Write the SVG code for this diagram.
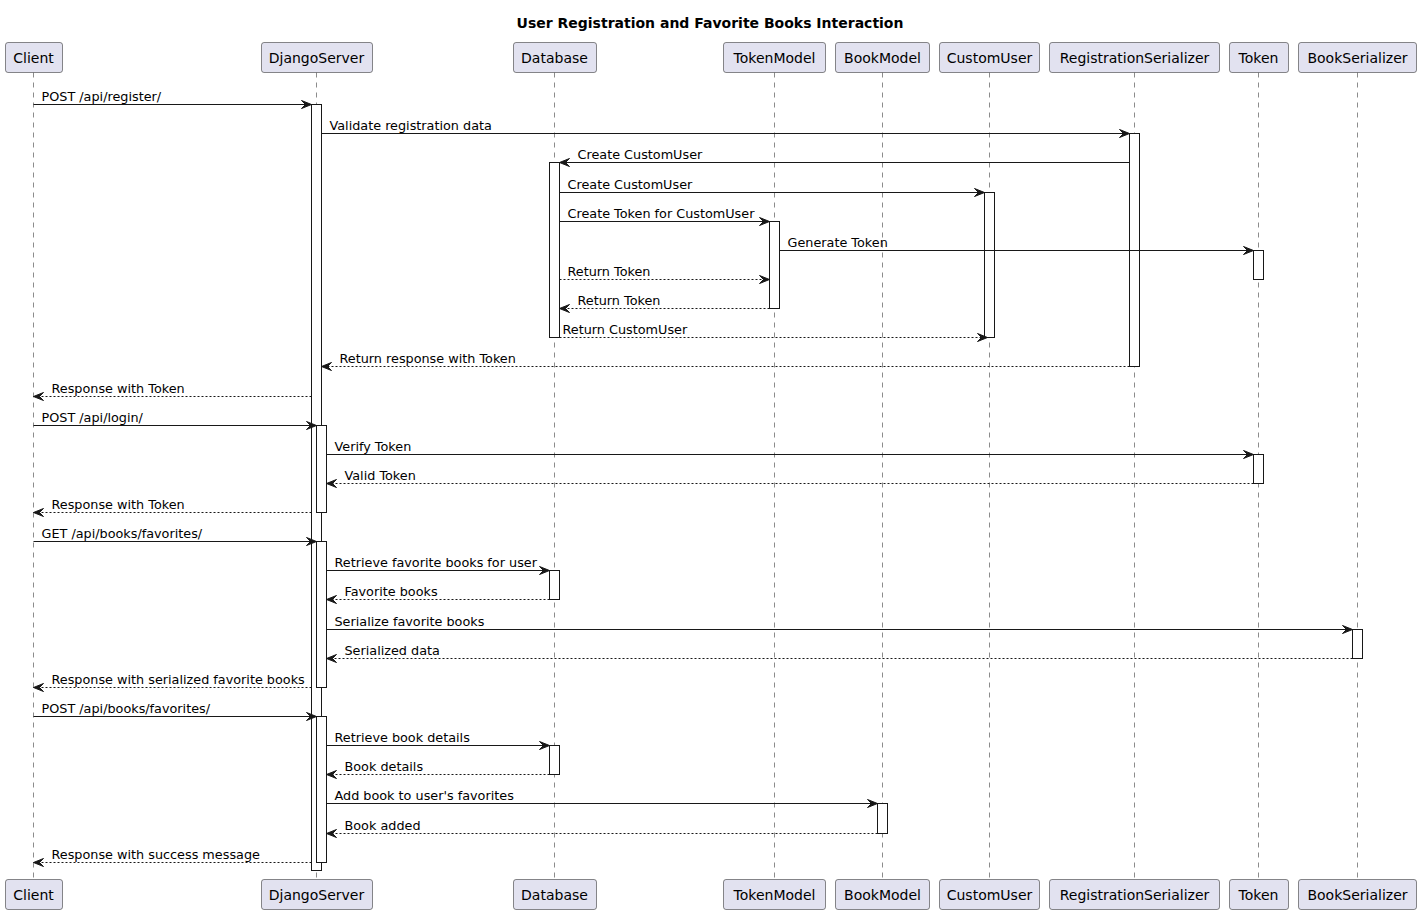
<svg xmlns="http://www.w3.org/2000/svg" width="1421" height="914" viewBox="0 0 1421 914">
  <style>
    text { font-family: "DejaVu Sans", "Noto Sans", sans-serif; fill: #000000; }
    .title { font-size: 14px; font-weight: bold; }
    .pname { font-size: 14px; text-anchor: middle; }
    .msg { font-size: 12.8px; }
    .pbox { fill: #E2E2F0; stroke: #181818; stroke-width: 0.5; }
    .life { stroke: #181818; stroke-width: 0.5; stroke-dasharray: 5,5; }
    .act { fill: #FFFFFF; stroke: #181818; stroke-width: 1; }
    .call { stroke: #181818; stroke-width: 1; fill: none; marker-end: url(#head); }
    .ret { stroke: #181818; stroke-width: 1; fill: none; stroke-dasharray: 2,2; marker-end: url(#head); }
  </style>
  <defs>
    <marker id="head" markerUnits="userSpaceOnUse" markerWidth="12" markerHeight="10" refX="10" refY="4" orient="auto" overflow="visible">
      <path d="M0,0 L10,4 L0,8 L4,4 Z" fill="#181818" stroke="#181818" stroke-width="1" stroke-linejoin="miter"/>
    </marker>
  </defs>
  <rect width="1421" height="914" fill="#FFFFFF"/>

  <text class="title" x="710" y="28" text-anchor="middle">User Registration and Favorite Books Interaction</text>

  <!-- half-pixel offset keeps the 1px strokes sharp -->
  <g transform="translate(0.5 0.5)">
  <!-- lifelines -->
  <g id="lifelines">
    <line class="life" x1="33" y1="72" x2="33" y2="879"/>
    <line class="life" x1="316" y1="72" x2="316" y2="879"/>
    <line class="life" x1="554" y1="72" x2="554" y2="879"/>
    <line class="life" x1="774" y1="72" x2="774" y2="879"/>
    <line class="life" x1="882" y1="72" x2="882" y2="879"/>
    <line class="life" x1="989" y1="72" x2="989" y2="879"/>
    <line class="life" x1="1134" y1="72" x2="1134" y2="879"/>
    <line class="life" x1="1258" y1="72" x2="1258" y2="879"/>
    <line class="life" x1="1357" y1="72" x2="1357" y2="879"/>
  </g>

  <!-- participants (head and foot boxes) with their activation bars -->
  <g id="Client">
    <rect class="pbox" x="5" y="42" width="57" height="30" rx="2.5"/>
    <text class="pname" x="33" y="62">Client</text>
    <rect class="pbox" x="5" y="879" width="57" height="30" rx="2.5"/>
    <text class="pname" x="33" y="899">Client</text>
  </g>
  <g id="DjangoServer">
    <rect class="pbox" x="261" y="42" width="111" height="30" rx="2.5"/>
    <text class="pname" x="316" y="62">DjangoServer</text>
    <rect class="pbox" x="261" y="879" width="111" height="30" rx="2.5"/>
    <text class="pname" x="316" y="899">DjangoServer</text>
    <rect class="act" x="311" y="104" width="10" height="766"/>
    <rect class="act" x="316" y="425" width="10" height="87"/>
    <rect class="act" x="316" y="541" width="10" height="146"/>
    <rect class="act" x="316" y="716" width="10" height="146"/>
  </g>
  <g id="Database">
    <rect class="pbox" x="513" y="42" width="83" height="30" rx="2.5"/>
    <text class="pname" x="554" y="62">Database</text>
    <rect class="pbox" x="513" y="879" width="83" height="30" rx="2.5"/>
    <text class="pname" x="554" y="899">Database</text>
    <rect class="act" x="549" y="162" width="10" height="175"/>
    <rect class="act" x="549" y="570" width="10" height="29"/>
    <rect class="act" x="549" y="745" width="10" height="29"/>
  </g>
  <g id="TokenModel">
    <rect class="pbox" x="723" y="42" width="102" height="30" rx="2.5"/>
    <text class="pname" x="774" y="62">TokenModel</text>
    <rect class="pbox" x="723" y="879" width="102" height="30" rx="2.5"/>
    <text class="pname" x="774" y="899">TokenModel</text>
    <rect class="act" x="769" y="221" width="10" height="87"/>
  </g>
  <g id="BookModel">
    <rect class="pbox" x="835" y="42" width="94" height="30" rx="2.5"/>
    <text class="pname" x="882" y="62">BookModel</text>
    <rect class="pbox" x="835" y="879" width="94" height="30" rx="2.5"/>
    <text class="pname" x="882" y="899">BookModel</text>
    <rect class="act" x="877" y="803" width="10" height="30"/>
  </g>
  <g id="CustomUser">
    <rect class="pbox" x="939" y="42" width="100" height="30" rx="2.5"/>
    <text class="pname" x="989" y="62">CustomUser</text>
    <rect class="pbox" x="939" y="879" width="100" height="30" rx="2.5"/>
    <text class="pname" x="989" y="899">CustomUser</text>
    <rect class="act" x="984" y="192" width="10" height="145"/>
  </g>
  <g id="RegistrationSerializer">
    <rect class="pbox" x="1049" y="42" width="170" height="30" rx="2.5"/>
    <text class="pname" x="1134" y="62">RegistrationSerializer</text>
    <rect class="pbox" x="1049" y="879" width="170" height="30" rx="2.5"/>
    <text class="pname" x="1134" y="899">RegistrationSerializer</text>
    <rect class="act" x="1129" y="133" width="10" height="233"/>
  </g>
  <g id="Token">
    <rect class="pbox" x="1229" y="42" width="59" height="30" rx="2.5"/>
    <text class="pname" x="1258" y="62">Token</text>
    <rect class="pbox" x="1229" y="879" width="59" height="30" rx="2.5"/>
    <text class="pname" x="1258" y="899">Token</text>
    <rect class="act" x="1253" y="250" width="10" height="29"/>
    <rect class="act" x="1253" y="454" width="10" height="29"/>
  </g>
  <g id="BookSerializer">
    <rect class="pbox" x="1298" y="42" width="118" height="30" rx="2.5"/>
    <text class="pname" x="1357" y="62">BookSerializer</text>
    <rect class="pbox" x="1298" y="879" width="118" height="30" rx="2.5"/>
    <text class="pname" x="1357" y="899">BookSerializer</text>
    <rect class="act" x="1352" y="629" width="10" height="29"/>
  </g>

  <!-- messages -->
  <g id="connectors">
    <line class="call" x1="33" y1="104" x2="311" y2="104"/>
    <text class="msg" x="41" y="100">POST /api/register/</text>

    <line class="call" x1="321" y1="133" x2="1129" y2="133"/>
    <text class="msg" x="329" y="129">Validate registration data</text>

    <line class="call" x1="1129" y1="162" x2="559" y2="162"/>
    <text class="msg" x="577" y="158">Create CustomUser</text>

    <line class="call" x1="559" y1="192" x2="984" y2="192"/>
    <text class="msg" x="567" y="188">Create CustomUser</text>

    <line class="call" x1="559" y1="221" x2="769" y2="221"/>
    <text class="msg" x="567" y="217">Create Token for CustomUser</text>

    <line class="call" x1="779" y1="250" x2="1253" y2="250"/>
    <text class="msg" x="787" y="246">Generate Token</text>

    <line class="ret" x1="559" y1="279" x2="769" y2="279"/>
    <text class="msg" x="567" y="275">Return Token</text>

    <line class="ret" x1="769" y1="308" x2="559" y2="308"/>
    <text class="msg" x="577" y="304">Return Token</text>

    <line class="ret" x1="559" y1="337" x2="987" y2="337"/>
    <text class="msg" x="562" y="333">Return CustomUser</text>

    <line class="ret" x1="1129" y1="366" x2="321" y2="366"/>
    <text class="msg" x="339" y="362">Return response with Token</text>

    <line class="ret" x1="311" y1="396" x2="33" y2="396"/>
    <text class="msg" x="51" y="392">Response with Token</text>

    <line class="call" x1="33" y1="425" x2="316" y2="425"/>
    <text class="msg" x="41" y="421">POST /api/login/</text>

    <line class="call" x1="326" y1="454" x2="1253" y2="454"/>
    <text class="msg" x="334" y="450">Verify Token</text>

    <line class="ret" x1="1253" y1="483" x2="326" y2="483"/>
    <text class="msg" x="344" y="479">Valid Token</text>

    <line class="ret" x1="311" y1="512" x2="33" y2="512"/>
    <text class="msg" x="51" y="508">Response with Token</text>

    <line class="call" x1="33" y1="541" x2="316" y2="541"/>
    <text class="msg" x="41" y="537">GET /api/books/favorites/</text>

    <line class="call" x1="326" y1="570" x2="549" y2="570"/>
    <text class="msg" x="334" y="566">Retrieve favorite books for user</text>

    <line class="ret" x1="549" y1="599" x2="326" y2="599"/>
    <text class="msg" x="344" y="595">Favorite books</text>

    <line class="call" x1="326" y1="629" x2="1352" y2="629"/>
    <text class="msg" x="334" y="625">Serialize favorite books</text>

    <line class="ret" x1="1352" y1="658" x2="326" y2="658"/>
    <text class="msg" x="344" y="654">Serialized data</text>

    <line class="ret" x1="311" y1="687" x2="33" y2="687"/>
    <text class="msg" x="51" y="683">Response with serialized favorite books</text>

    <line class="call" x1="33" y1="716" x2="316" y2="716"/>
    <text class="msg" x="41" y="712">POST /api/books/favorites/</text>

    <line class="call" x1="326" y1="745" x2="549" y2="745"/>
    <text class="msg" x="334" y="741">Retrieve book details</text>

    <line class="ret" x1="549" y1="774" x2="326" y2="774"/>
    <text class="msg" x="344" y="770">Book details</text>

    <line class="call" x1="326" y1="803" x2="877" y2="803"/>
    <text class="msg" x="334" y="799">Add book to user's favorites</text>

    <line class="ret" x1="877" y1="833" x2="326" y2="833"/>
    <text class="msg" x="344" y="829">Book added</text>

    <line class="ret" x1="311" y1="862" x2="33" y2="862"/>
    <text class="msg" x="51" y="858">Response with success message</text>
  </g>
  </g>
</svg>
